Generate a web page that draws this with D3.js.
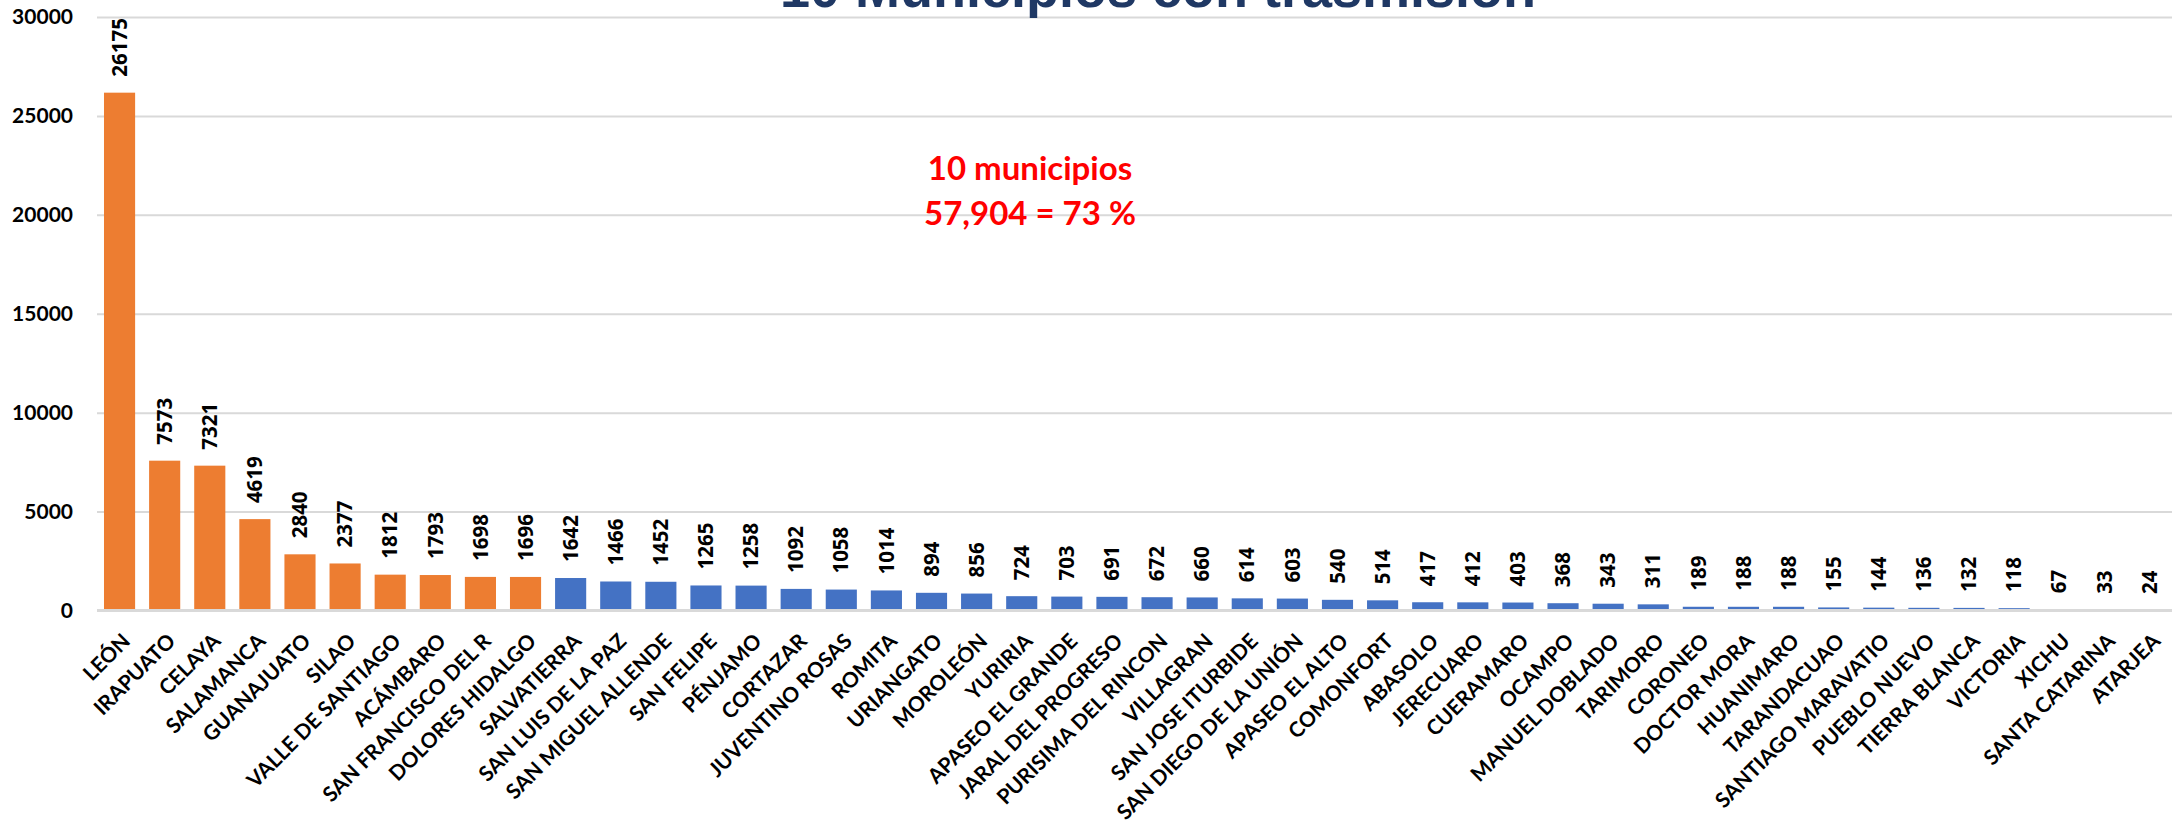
<!DOCTYPE html>
<html>
<head>
<meta charset="utf-8">
<script src="https://cdn.jsdelivr.net/npm/d3@7"></script>
<style>
  body { margin: 0; background: #fff; }
  svg { display: block; }
</style>
</head>
<body>
<svg></svg>
<script>
// Data
const municipios = [
  "LEÓN", "IRAPUATO", "CELAYA", "SALAMANCA", "GUANAJUATO", "SILAO",
  "VALLE DE SANTIAGO", "ACÁMBARO", "SAN FRANCISCO DEL R", "DOLORES HIDALGO",
  "SALVATIERRA", "SAN LUIS DE LA PAZ", "SAN MIGUEL ALLENDE", "SAN FELIPE",
  "PÉNJAMO", "CORTAZAR", "JUVENTINO ROSAS", "ROMITA", "URIANGATO", "MOROLEÓN",
  "YURIRIA", "APASEO EL GRANDE", "JARAL DEL PROGRESO", "PURISIMA DEL RINCON",
  "VILLAGRAN", "SAN JOSE ITURBIDE", "SAN DIEGO DE LA UNIÓN", "APASEO EL ALTO",
  "COMONFORT", "ABASOLO", "JERECUARO", "CUERAMARO", "OCAMPO", "MANUEL DOBLADO",
  "TARIMORO", "CORONEO", "DOCTOR MORA", "HUANIMARO", "TARANDACUAO",
  "SANTIAGO MARAVATIO", "PUEBLO NUEVO", "TIERRA BLANCA", "VICTORIA", "XICHU",
  "SANTA CATARINA", "ATARJEA"
];
const casos = [
  26175, 7573, 7321, 4619, 2840, 2377, 1812, 1793, 1698, 1696,
  1642, 1466, 1452, 1265, 1258, 1092, 1058, 1014, 894, 856,
  724, 703, 691, 672, 660, 614, 603, 540, 514, 417,
  412, 403, 368, 343, 311, 189, 188, 188, 155, 144,
  136, 132, 118, 67, 33, 24
];
const yTicks = [0, 5000, 10000, 15000, 20000, 25000, 30000];
const topN = 10;
const title = "10 Municipios con trasmisión";
const note = ["10 municipios", "57,904 = 73 %"];

// Sizes
const W = 2176, H = 820;
const margin = { t: 17, b: 210, l: 97, r: 4 };
const width = W - margin.l - margin.r;
const height = 610.5 - margin.t;

const svg = d3.select("svg")
  .attr("width", W)
  .attr("height", H);

const g = svg.append("g")
  .attr("transform", `translate(${margin.l}, ${margin.t})`);

// Scales
const x = d3.scaleBand()
  .domain(municipios)
  .range([0, width])
  .paddingInner(0.31)
  .paddingOuter(0.155);

const y = d3.scaleLinear()
  .domain([0, 30000])
  .range([height, 0]);

// grid
g.append("g")
  .call(d3.axisLeft(y).tickValues(yTicks).tickSize(-width).tickFormat(""))
  .call(s => s.select(".domain").remove())
  .selectAll("line")
    .attr("stroke", "#d9d9d9")
    .attr("stroke-width", 2);

// y axis labels
g.append("g")
  .call(d3.axisLeft(y).tickValues(yTicks).tickSize(0).tickPadding(24).tickFormat(d3.format("d")))
  .call(s => s.select(".domain").remove())
  .selectAll("text")
    .attr("font-family", "Lato")
    .attr("font-weight", "bold")
    .attr("font-size", 21)
    .attr("fill", "#000");

// bars
g.selectAll("rect.bar")
  .data(casos)
  .join("rect")
    .attr("class", "bar")
    .attr("x", (d, i) => x(municipios[i]))
    .attr("y", d => y(d))
    .attr("width", x.bandwidth())
    .attr("height", d => height - y(d))
    .attr("fill", (d, i) => i < topN ? "#ED7D31" : "#4472C4");

// baseline
g.append("line")
  .attr("x1", 0).attr("x2", width)
  .attr("y1", height).attr("y2", height)
  .attr("stroke", "#d9d9d9")
  .attr("stroke-width", 3);

// value labels
g.selectAll("text.val")
  .data(casos)
  .join("text")
    .attr("class", "val")
    .attr("transform", (d, i) => `translate(${x(municipios[i]) + x.bandwidth() / 2}, ${y(d) - 16}) rotate(-90)`)
    .attr("dy", "0.35em")
    .attr("font-family", "Open Sans")
    .attr("font-weight", "bold")
    .attr("font-size", 20.5)
    .attr("fill", "#000")
    .text(d => d);

// category labels
g.selectAll("text.cat")
  .data(municipios)
  .join("text")
    .attr("class", "cat")
    .attr("transform", d => `translate(${x(d) + x.bandwidth() / 2 + 12}, ${height + 32}) rotate(-45)`)
    .attr("text-anchor", "end")
    .attr("font-family", "Lato")
    .attr("font-weight", "bold")
    .attr("font-size", 21)
    .attr("fill", "#000")
    .text(d => d);

// title (cut off at the top, as in the original)
svg.append("text")
  .attr("x", 1158)
  .attr("y", 7)
  .attr("text-anchor", "middle")
  .attr("font-family", "Liberation Sans")
  .attr("font-weight", "bold")
  .attr("font-size", 54)
  .attr("fill", "#1F3864")
  .text(title);

// annotation
svg.append("text")
  .attr("x", 1030)
  .attr("text-anchor", "middle")
  .attr("font-family", "Lato")
  .attr("font-weight", "bold")
  .attr("font-size", 33)
  .attr("fill", "#FF0000")
  .selectAll("tspan")
  .data(note)
  .join("tspan")
    .attr("x", 1030)
    .attr("y", (d, i) => 180 + i * 45)
    .text(d => d);
</script>
</body>
</html>
